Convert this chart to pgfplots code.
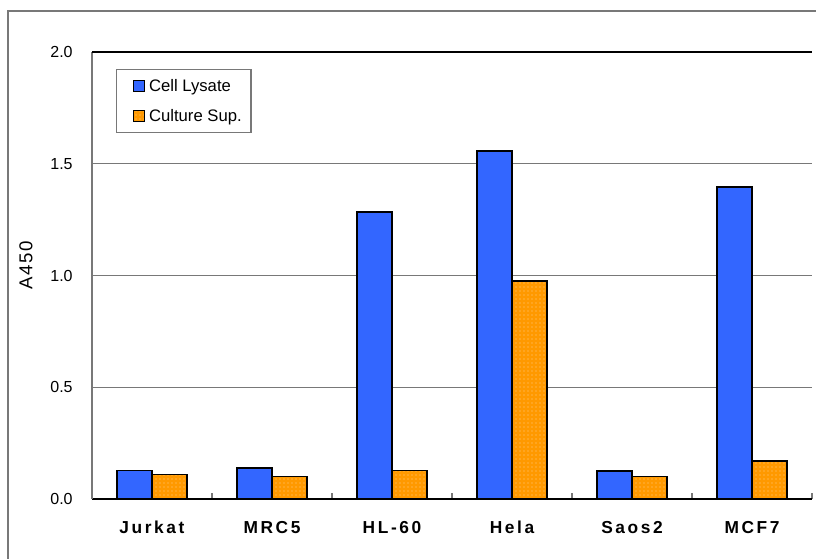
\documentclass[border=0pt]{standalone}
\usepackage{pgfplots}
\pgfplotsset{compat=1.18}
\usetikzlibrary{patterns}
\usepackage{fontspec}
\setmainfont{Liberation Sans}
\newfontfamily\wide[LetterSpace=15]{Liberation Sans}
\newfontfamily\lwide[LetterSpace=8]{Liberation Sans}
\definecolor{lysate}{RGB}{51,102,255}
\definecolor{supern}{RGB}{255,153,0}
\definecolor{frame}{RGB}{120,120,120}
\pgfplotsset{sqlegend/.style={legend image code/.code={%
  \pgfpathmoveto{\pgfqpoint{-8pt}{0pt}}\pgfpathlineto{\pgfqpoint{9.5pt}{0pt}}\pgfusepath{}%
  \draw[##1, line width=1pt] (0pt,-4pt) rectangle (8pt,4pt);}}}

\begin{document}
\begin{tikzpicture}
\path[use as bounding box] (0pt,0pt) rectangle (612pt,419.25pt);
\draw[frame, line width=1.2pt] (6pt,0pt) -- (6pt,411pt) -- (612pt,411pt);
\begin{axis}[
  at={(69pt,45pt)}, anchor=south west,
  scale only axis, width=540pt, height=335.25pt,
  ybar=0pt, bar width=26.25pt,
  xmin=-0.5, xmax=5.5, ymin=0, ymax=2,
  axis lines=left,
  x axis line style={black, line width=1.2pt, -},
  y axis line style={frame, line width=1pt, -},
  xtick={0,...,5},
  xticklabels={Jurkat,MRC5,HL-60,Hela,Saos2,MCF7},
  minor xtick={0.5,1.5,...,5.5},
  major tick length=0pt,
  minor tick length=4.5pt,
  tick align=inside,
  minor tick style={frame, line width=1pt},
  ytick={0,0.5,...,2},
  ymajorgrids,
  grid style={frame, line width=1pt},
  extra y ticks={2},
  extra y tick labels={},
  extra y tick style={grid style={black, line width=1.2pt}},
  yticklabel style={/pgf/number format/fixed, /pgf/number format/fixed zerofill,
    /pgf/number format/precision=1},
  /pgf/number format/assume math mode=true,
  yticklabel style={font=\fontsize{12}{14}\selectfont, xshift=-11pt},
  xticklabel style={font=\wide\bfseries\fontsize{13}{15}\selectfont, yshift=-13pt},
  ylabel={A450},
  ylabel style={at={(axis description cs:-0.0917,0.523)}, anchor=center,
    font=\lwide\fontsize{14}{16}\selectfont},
  legend style={at={(axis description cs:0.033,0.962)}, anchor=north west,
    draw=frame, line width=1pt, inner xsep=5pt, inner ysep=5pt,
    row sep=8pt, font=\fontsize{12.5}{14}\selectfont},
  legend cell align=left,
]
\addplot[fill=lysate, draw=black, line width=1.2pt, sqlegend]
  coordinates {(0,0.128) (1,0.140) (2,1.284) (3,1.557) (4,0.125) (5,1.396)};
\addplot[fill=supern, draw=black, line width=1.2pt,
  postaction={pattern=dots, pattern color=white!55!supern}, sqlegend]
  coordinates {(0,0.109) (1,0.100) (2,0.127) (3,0.975) (4,0.100) (5,0.169)};
\legend{Cell Lysate, Culture Sup.}
\end{axis}
\end{tikzpicture}
\end{document}
